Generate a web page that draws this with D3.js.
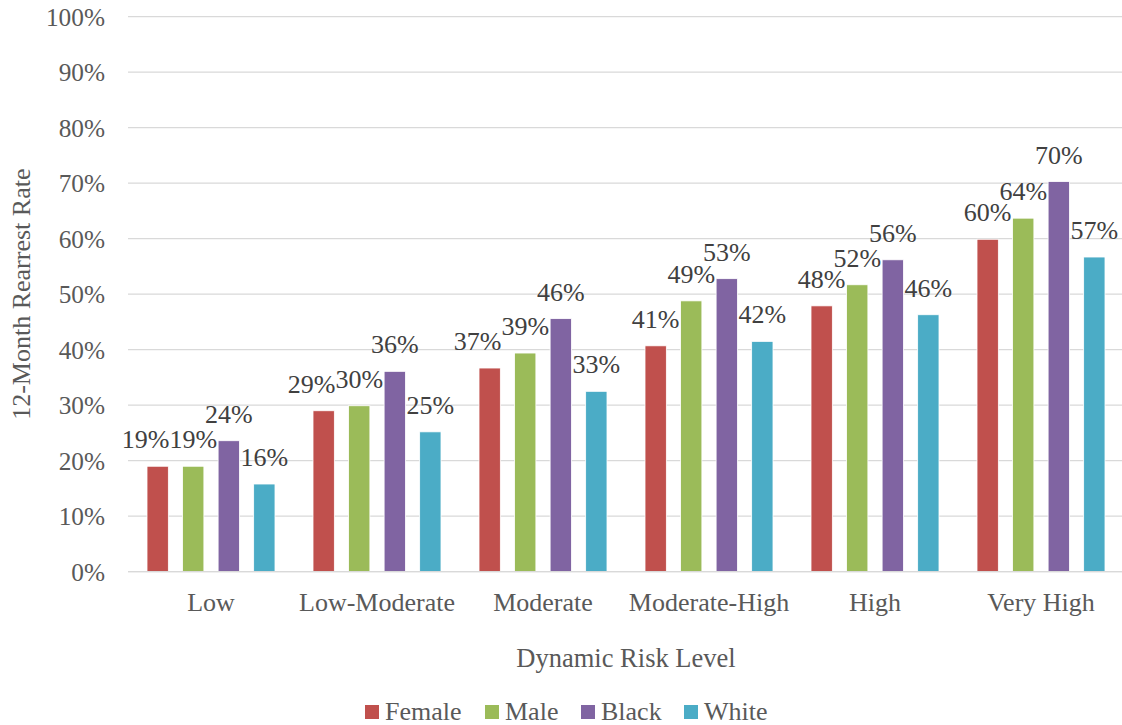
<!DOCTYPE html>
<html>
<head>
<meta charset="utf-8">
<script src="https://cdn.jsdelivr.net/npm/d3@7"></script>
<style>
  html, body { margin: 0; padding: 0; background: #fff; }
  svg text { font-family: "Liberation Serif", "Times New Roman", Times, serif; }
</style>
</head>
<body>
<svg id="chart" width="1122" height="725"></svg>
<script>
const categories = ["Low", "Low-Moderate", "Moderate", "Moderate-High", "High", "Very High"];
const seriesNames = ["Female", "Male", "Black", "White"];
const seriesColors = ["#C0504D", "#9BBB59", "#8064A2", "#4BACC6"];
const female = [0.19, 0.29, 0.367, 0.407, 0.479, 0.599];
const male   = [0.19, 0.299, 0.394, 0.488, 0.517, 0.637];
const black  = [0.236, 0.361, 0.456, 0.528, 0.562, 0.703];
const white  = [0.158, 0.252, 0.325, 0.415, 0.463, 0.567];
const yTicks = [0, 0.1, 0.2, 0.3, 0.4, 0.5, 0.6, 0.7, 0.8, 0.9, 1.0];
const yTitle = "12-Month Rearrest Rate";
const xTitle = "Dynamic Risk Level";

const seriesValues = [female, male, black, white];
const FONT = '"Liberation Serif", "Times New Roman", Times, serif';

const svg = d3.select("#chart");
const plot = { left: 128, right: 1124, top: 16.7, bottom: 571.7 };

const x0 = d3.scaleBand().domain(categories).range([plot.left, plot.right]).padding(0);
const bw = x0.bandwidth();
const x1 = d3.scaleBand().domain(seriesNames).range([bw * 0.1145, bw * 0.8855]).paddingInner(0.4).paddingOuter(0);
const y = d3.scaleLinear().domain([0, 1]).range([plot.bottom, plot.top]);
const pct = d3.format(".0%");

// gridlines
svg.append("g").selectAll("line").data(yTicks).join("line")
  .attr("x1", plot.left).attr("x2", plot.right)
  .attr("y1", d => y(d)).attr("y2", d => y(d))
  .attr("stroke", "#d9d9d9").attr("stroke-width", 1.3);

// y tick labels
svg.append("g").selectAll("text").data(yTicks).join("text")
  .attr("x", 105).attr("y", d => y(d)).attr("dy", "0.35em")
  .attr("font-family", FONT)
  .attr("text-anchor", "end").attr("font-size", 25.3).attr("fill", "#595959")
  .text(d => pct(d));

// bars
const groups = svg.append("g").selectAll("g").data(categories).join("g")
  .attr("transform", c => `translate(${x0(c)},0)`);

groups.selectAll("rect").data((c, ci) => seriesNames.map((s, si) => ({ s, si, v: seriesValues[si][ci] })))
  .join("rect")
  .attr("x", d => x1(d.s)).attr("width", x1.bandwidth())
  .attr("y", d => y(d.v)).attr("height", d => y(0) - y(d.v))
  .attr("fill", d => seriesColors[d.si])
  .attr("stroke", "#fff").attr("stroke-width", 0.8);

// data labels with simple collision avoidance
groups.each(function(c, ci) {
  const g = d3.select(this);
  const labels = seriesNames.map((s, si) => {
    const v = seriesValues[si][ci];
    const t = g.append("text")
      .attr("x", x1(s) + x1.bandwidth() / 2)
      .attr("y", y(v) - 18)
      .attr("font-family", FONT)
      .attr("text-anchor", "middle")
      .attr("font-size", 26).attr("fill", "#404040")
      .text(pct(v));
    const w = t.node().getComputedTextLength();
    return { t, cx: x1(s) + x1.bandwidth() / 2, by: y(v) - 18, w };
  });
  for (let i = labels.length - 2; i >= 0; i--) {
    const a = labels[i], b = labels[i + 1];
    const aRight = a.cx + a.w / 2, bLeft = b.cx - b.w / 2;
    if (Math.abs(a.by - b.by) < 18 && aRight > bLeft) {
      a.cx = bLeft - a.w / 2;
      a.t.attr("x", a.cx);
    }
  }
});

// x axis line
svg.append("line")
  .attr("x1", plot.left).attr("x2", plot.right)
  .attr("y1", y(0)).attr("y2", y(0))
  .attr("stroke", "#d9d9d9").attr("stroke-width", 1.3);

// category labels
svg.append("g").selectAll("text").data(categories).join("text")
  .attr("x", c => x0(c) + bw / 2).attr("y", 611)
  .attr("font-family", FONT)
  .attr("text-anchor", "middle").attr("font-size", 26).attr("fill", "#595959")
  .text(c => c);

// axis titles
svg.append("text")
  .attr("x", (plot.left + 1122) / 2 + 1).attr("y", 667)
  .attr("font-family", FONT)
  .attr("text-anchor", "middle").attr("font-size", 26.5).attr("fill", "#595959")
  .text(xTitle);

svg.append("text")
  .attr("transform", `translate(30,${(plot.top + plot.bottom) / 2}) rotate(-90)`)
  .attr("font-family", FONT)
  .attr("text-anchor", "middle").attr("font-size", 26).attr("fill", "#595959")
  .text(yTitle);

// legend
const legendX = [365, 485, 581, 684];
const legend = svg.append("g");
seriesNames.forEach((s, i) => {
  legend.append("rect").attr("x", legendX[i]).attr("y", 705).attr("width", 14).attr("height", 14)
    .attr("fill", seriesColors[i]);
  legend.append("text").attr("x", legendX[i] + 20).attr("y", 720)
    .attr("font-family", FONT)
    .attr("font-size", 26).attr("fill", "#595959").text(s);
});
</script>
</body>
</html>
